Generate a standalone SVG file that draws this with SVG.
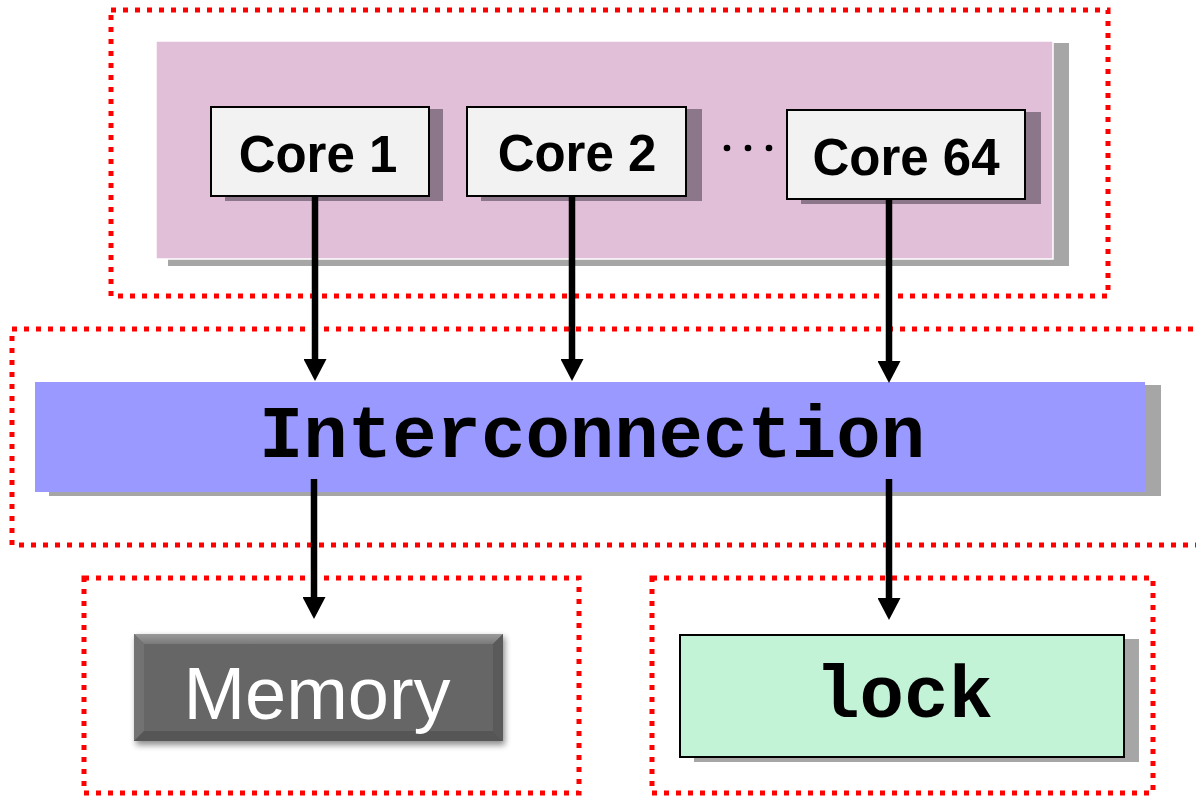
<svg xmlns="http://www.w3.org/2000/svg" width="1196" height="796" viewBox="0 0 1196 796">
  <style>
    .dotted { fill: none; stroke: #ff0000; stroke-width: 5; stroke-dasharray: 5 7; }
    .core { fill: #f2f2f2; stroke: #000; stroke-width: 2; }
    .coreshadow { fill: #8c7689; }
    .grayshadow { fill: #a6a6a6; }
    .corelabel { font-family: "Liberation Sans", Arial, sans-serif; font-weight: bold; font-size: 51px; fill: #000; text-anchor: middle; }
    .mono { font-family: "Liberation Mono", "Courier New", monospace; font-weight: bold; font-size: 74px; fill: #000; text-anchor: middle; }
    .conn { stroke: #000; stroke-width: 6.5; fill: none; marker-end: url(#arrow); }
  </style>
  <defs>
    <marker id="arrow" markerUnits="userSpaceOnUse" viewBox="0 0 22 23" markerWidth="22" markerHeight="23" refX="10" refY="11.5" orient="auto">
      <path d="M0,0 L22,11.5 L0,23 Z" fill="#000"/>
    </marker>
    <linearGradient id="memTop" x1="0" y1="0" x2="0" y2="1">
      <stop offset="0" stop-color="#9a9a9a"/>
      <stop offset="1" stop-color="#7a7a7a"/>
    </linearGradient>
    <filter id="blur" x="-10%" y="-20%" width="120%" height="140%">
      <feGaussianBlur stdDeviation="3"/>
    </filter>
  </defs>

  <!-- dotted grouping boxes -->
  <g id="groups">
    <rect class="dotted" x="111" y="10" width="997" height="286"/>
    <rect class="dotted" x="12" y="329" width="1200" height="216"/>
    <rect class="dotted" x="84" y="578" width="495" height="215"/>
    <rect class="dotted" x="652" y="578" width="501" height="215"/>
  </g>

  <!-- pink panel -->
  <g id="cores-panel">
    <rect class="grayshadow" x="168" y="43" width="901" height="223"/>
    <rect x="156" y="41" width="897" height="218" fill="#e1bfd9" stroke="#ffffff" stroke-width="1.5"/>
  </g>

  <g id="core1">
    <rect class="coreshadow" x="225" y="109" width="218" height="92"/>
    <rect class="core" x="211" y="107" width="218" height="89"/>
    <text class="corelabel" x="318" y="172">Core 1</text>
  </g>

  <g id="core2">
    <rect class="coreshadow" x="481" y="109" width="221" height="92"/>
    <rect class="core" x="467" y="107" width="219" height="89"/>
    <text class="corelabel" x="577" y="171">Core 2</text>
  </g>

  <g id="dots">
    <circle cx="727" cy="148" r="3.3" fill="#000"/>
    <circle cx="748" cy="148" r="3.3" fill="#000"/>
    <circle cx="769" cy="148" r="3.3" fill="#000"/>
  </g>

  <g id="core64">
    <rect class="coreshadow" x="801" y="112" width="240" height="92"/>
    <rect class="core" x="787" y="110" width="238" height="89"/>
    <text class="corelabel" x="906" y="175">Core 64</text>
  </g>

  <g id="interconnection">
    <rect class="grayshadow" x="49" y="385" width="1112" height="111"/>
    <rect x="35" y="382" width="1110" height="110" fill="#9999ff"/>
    <text class="mono" x="592" y="457">Interconnection</text>
  </g>

  <g id="memory">
    <rect x="136" y="637" width="369" height="108" fill="#000" opacity="0.45" filter="url(#blur)"/>
    <rect x="134" y="634" width="369" height="107" fill="#666666"/>
    <polygon points="134,634 503,634 493,644 144,644" fill="url(#memTop)"/>
    <polygon points="134,634 144,644 144,731 134,741" fill="#727272"/>
    <polygon points="503,634 503,741 493,731 493,644" fill="#5a5a5a"/>
    <polygon points="134,741 144,731 493,731 503,741" fill="#565656"/>
    <rect x="144" y="644" width="349" height="87" fill="#666666"/>
    <text x="317" y="719" font-family="'Liberation Sans', Arial, sans-serif" font-size="74" fill="#ffffff" text-anchor="middle">Memory</text>
  </g>

  <g id="lock">
    <rect class="grayshadow" x="694" y="639" width="445" height="123"/>
    <rect x="680" y="635" width="444" height="122" fill="#c3f3d7" stroke="#000" stroke-width="2"/>
    <text class="mono" x="904" y="717">lock</text>
  </g>

  <g id="connectors">
    <line class="conn" x1="315" y1="196" x2="315" y2="369"/>
    <line class="conn" x1="572" y1="196" x2="572" y2="369"/>
    <line class="conn" x1="889" y1="199" x2="889" y2="371"/>
    <line class="conn" x1="314" y1="479" x2="314" y2="607"/>
    <line class="conn" x1="889" y1="479" x2="889" y2="608"/>
  </g>
</svg>
